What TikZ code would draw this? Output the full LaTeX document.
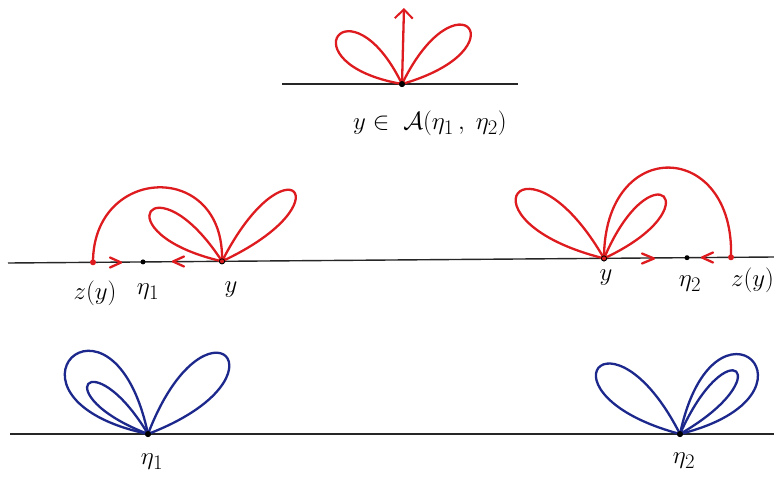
\documentclass[tikz,border=0pt]{standalone}
\usepackage{amsmath}
\usetikzlibrary{arrows.meta}
\definecolor{hred}{RGB}{222,28,32}
\definecolor{hblue}{RGB}{28,40,140}
% lobe: [style] {origin node} {angle} {reach} {half opening}
\newcommand\lobe[5][]{\draw[#1] (#2.center) .. controls +({#3-#5}:{#4/(0.75*cos(#5))}) and +({#3+#5}:{#4/(0.75*cos(#5))}) .. (#2.center);}
\begin{document}
\begin{tikzpicture}[x=1pt,y=-1pt,
  axis/.style={line width=1.4pt,black!85},
  redc/.style={hred,line width=2.3pt,line join=round,line cap=round},
  bluec/.style={hblue,line width=2.3pt,line join=round,line cap=round},
  bdot/.style={circle,fill=black,inner sep=0pt,minimum size=6pt},
  rdot/.style={circle,fill=hred,inner sep=0pt,minimum size=6pt},
  lab/.style={font=\fontsize{24.88}{28}\selectfont,inner sep=1pt},
  chev/.style={hred,line width=2.3pt,line cap=round,line join=round}]
\useasboundingbox (0,0) rectangle (774,482);
\clip (0,0) rectangle (774,482);
\fill[white] (0,0) rectangle (774,482);

% ---------- top ----------
\coordinate (ta) at (282,84);
\coordinate (tb) at (518,84);
\draw[axis] (ta) -- (tb);
\node[bdot] (top) at (402,84) {};
\coordinate (tip) at (404,8);
\lobe[redc]{top}{-143}{80}{27}
\lobe[redc]{top}{-40}{87}{24}
\draw[redc,-{Straight Barb[length=9pt,width=18pt,line width=2pt]}] (top.center) -- (tip);
\node[bdot] at (top) {};
\node[lab] (tlab) at (430,123) {$y\in\;\mathcal{A}(\eta_{1}\,,\;\eta_{2})$};

% ---------- middle ----------
\coordinate (ma) at (8,263);
\coordinate (mb) at (774,257);
\draw[axis] (ma) -- (mb);
\node[rdot] (z1) at (93,262.3) {};
\node[bdot,minimum size=5pt] (e1) at (143,261.9) {};
\node[bdot] (y1) at (222,261.3) {};
\lobe[redc]{y1}{-145}{87}{22}
\lobe[redc]{y1}{-44}{100}{19}
\draw[redc] (z1.center) .. controls (93,165) and (225,160) .. (y1.center);
\draw[chev] (110,257.5) -- (121,262.5) -- (110,267.5);
\draw[chev] (184,256.5) -- (173,261.5) -- (184,266.5);
\node[bdot] at (y1) {};
\node[rdot,minimum size=4pt] at (y1) {};
\node[lab] (lz1) at (95,293) {$z(y)$};
\node[lab] (le1) at (148,292) {$\eta_{1}$};
\node[lab] (ly1) at (231,290) {$y$};

\node[bdot] (y2) at (604,258.4) {};
\node[bdot,minimum size=5pt] (e2) at (687,257.7) {};
\node[rdot] (z2) at (731,257.3) {};
\lobe[redc]{y2}{-143}{108}{23}
\lobe[redc]{y2}{-46}{86}{21}
\draw[redc] (y2.center) .. controls (604,135) and (735,140) .. (z2.center);
\draw[chev] (642,253.5) -- (654,258.5) -- (642,263.5);
\draw[chev] (713,252.5) -- (702,257.5) -- (713,262.5);
\node[bdot] at (y2) {};
\node[rdot,minimum size=4pt] at (y2) {};
\node[lab] (ly2) at (606,278) {$y$};
\node[lab] (le2) at (690,284) {$\eta_{2}$};
\node[lab,anchor=west] (lz2) at (730,280) {$z(y)$};

% ---------- bottom ----------
\coordinate (ba) at (10,434);
\coordinate (bb) at (774,434);
\draw[axis] (ba) -- (bb);
\node[bdot] (b1) at (148,434) {};
\lobe[bluec]{b1}{-135}{108}{33}
\lobe[bluec]{b1}{-140}{78}{19}
\lobe[bluec]{b1}{-45}{110}{24}
\node[bdot] at (b1) {};
\node[lab] (lb1) at (152,462) {$\eta_{1}$};

\node[bdot] (b2) at (680,434) {};
\lobe[bluec]{b2}{-141}{105}{24}
\lobe[bluec]{b2}{-46}{103}{32}
\lobe[bluec]{b2}{-48}{84}{18}
\node[bdot] at (b2) {};
\node[lab] (lb2) at (684,461) {$\eta_{2}$};
\end{tikzpicture}
\end{document}
